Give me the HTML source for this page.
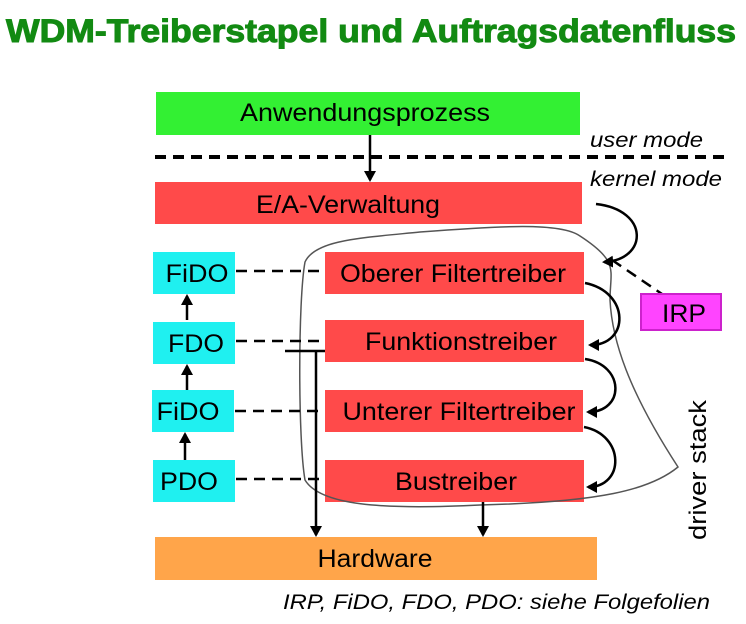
<!DOCTYPE html>
<html><head><meta charset="utf-8"><style>
body{margin:0;background:#fff;}
svg{display:block;font-family:"Liberation Sans",sans-serif;}
</style></head><body>
<svg width="746" height="624" viewBox="0 0 746 624" xmlns="http://www.w3.org/2000/svg">
<defs><marker id="a" markerWidth="12" markerHeight="12" refX="9" refY="6" orient="auto" markerUnits="userSpaceOnUse"><path d="M0,0 L11,6 L0,12 z" fill="#000"/></marker></defs>
<text x="6" y="42" font-size="32" font-weight="bold" fill="#128a12" stroke="#128a12" stroke-width="1" textLength="730" lengthAdjust="spacingAndGlyphs">WDM-Treiberstapel und Auftragsdatenfluss</text>

<rect x="156" y="92" width="424" height="43" fill="#33f033"/>
<text x="365" y="121" font-size="25" text-anchor="middle" textLength="250" lengthAdjust="spacingAndGlyphs">Anwendungsprozess</text>
<line x1="155" y1="157" x2="727" y2="157" stroke="#000" stroke-width="4" stroke-dasharray="11,7"/>
<text x="590" y="147" font-size="21" font-style="italic" textLength="113" lengthAdjust="spacingAndGlyphs">user mode</text>
<text x="590" y="186" font-size="21" font-style="italic" textLength="132" lengthAdjust="spacingAndGlyphs">kernel mode</text>
<line x1="370" y1="135" x2="370" y2="180" stroke="#000" stroke-width="2.5" marker-end="url(#a)"/>

<rect x="155" y="182" width="427" height="42" fill="#ff4a4a"/>
<text x="348" y="213" font-size="25" text-anchor="middle" textLength="184" lengthAdjust="spacingAndGlyphs">E/A-Verwaltung</text>

<g fill="#ff4a4a">
<rect x="325" y="252" width="259" height="42"/>
<rect x="325" y="320" width="259" height="42"/>
<rect x="325" y="390" width="258" height="42"/>
<rect x="325" y="460" width="259" height="42"/>
</g>

<path d="M305,262 C315,240 360,238 420,232 C500,226 560,222 580,236 C620,262 610,270 610,300 C612,340 628,390 678,467 C650,490 600,502 480,505 C380,510 320,505 305,480 C298,440 298,300 305,262 z" fill="none" stroke="#555" stroke-width="1.5"/>

<g font-size="25" text-anchor="middle" lengthAdjust="spacingAndGlyphs">
<text x="453" y="282" textLength="226" lengthAdjust="spacingAndGlyphs">Oberer Filtertreiber</text>
<text x="461" y="350" textLength="192" lengthAdjust="spacingAndGlyphs">Funktionstreiber</text>
<text x="459" y="420" textLength="233" lengthAdjust="spacingAndGlyphs">Unterer Filtertreiber</text>
<text x="456" y="490" textLength="122" lengthAdjust="spacingAndGlyphs">Bustreiber</text>
</g>

<g fill="#1ff0f0">
<rect x="153" y="252" width="82" height="42"/>
<rect x="153" y="322" width="82" height="42"/>
<rect x="152" y="390" width="82" height="42"/>
<rect x="153" y="460" width="82" height="42"/>
</g>
<g font-size="25" text-anchor="middle">
<text x="197" y="282" textLength="63" lengthAdjust="spacingAndGlyphs">FiDO</text>
<text x="196" y="352" textLength="56" lengthAdjust="spacingAndGlyphs">FDO</text>
<text x="188" y="420" textLength="63" lengthAdjust="spacingAndGlyphs">FiDO</text>
<text x="189" y="490" textLength="58" lengthAdjust="spacingAndGlyphs">PDO</text>
</g>
<g stroke="#000" stroke-width="2.5" fill="none">
<line x1="187" y1="320" x2="187" y2="296" marker-end="url(#a)"/>
<line x1="187" y1="390" x2="187" y2="366" marker-end="url(#a)"/>
<line x1="185" y1="460" x2="185" y2="434" marker-end="url(#a)"/>
<line x1="285" y1="351" x2="325" y2="351"/>
<line x1="316" y1="351" x2="316" y2="535" marker-end="url(#a)"/>
<line x1="483" y1="502" x2="483" y2="535" marker-end="url(#a)"/>
<path d="M596,204 C650,210 648,260 604,262" marker-end="url(#a)"/>
<path d="M585,283 C630,292 630,345 590,345" marker-end="url(#a)"/>
<path d="M585,359 C625,365 625,412 588,412" marker-end="url(#a)"/>
<path d="M584,427 C625,435 625,487 588,487" marker-end="url(#a)"/>
</g>
<g stroke="#000" stroke-width="2.5" stroke-dasharray="11,7">
<line x1="236" y1="271" x2="325" y2="271"/>
<line x1="236" y1="341" x2="325" y2="341"/>
<line x1="235" y1="411" x2="325" y2="411"/>
<line x1="236" y1="479" x2="325" y2="479"/>
<line x1="612" y1="260" x2="662" y2="294"/>
</g>

<rect x="641" y="294" width="80" height="36" fill="#ff44ff" stroke="#cc22cc" stroke-width="2"/>
<text x="684" y="322" font-size="25" text-anchor="middle" textLength="44" lengthAdjust="spacingAndGlyphs">IRP</text>

<text transform="translate(706,540) rotate(-90)" font-size="24" textLength="140" lengthAdjust="spacingAndGlyphs">driver stack</text>

<rect x="155" y="537" width="442" height="43" fill="#ffa54a"/>
<text x="375" y="567" font-size="25" text-anchor="middle" textLength="115" lengthAdjust="spacingAndGlyphs">Hardware</text>

<text x="283" y="609" font-size="21" font-style="italic" textLength="427" lengthAdjust="spacingAndGlyphs">IRP, FiDO, FDO, PDO: siehe Folgefolien</text>
</svg>
</body></html>
